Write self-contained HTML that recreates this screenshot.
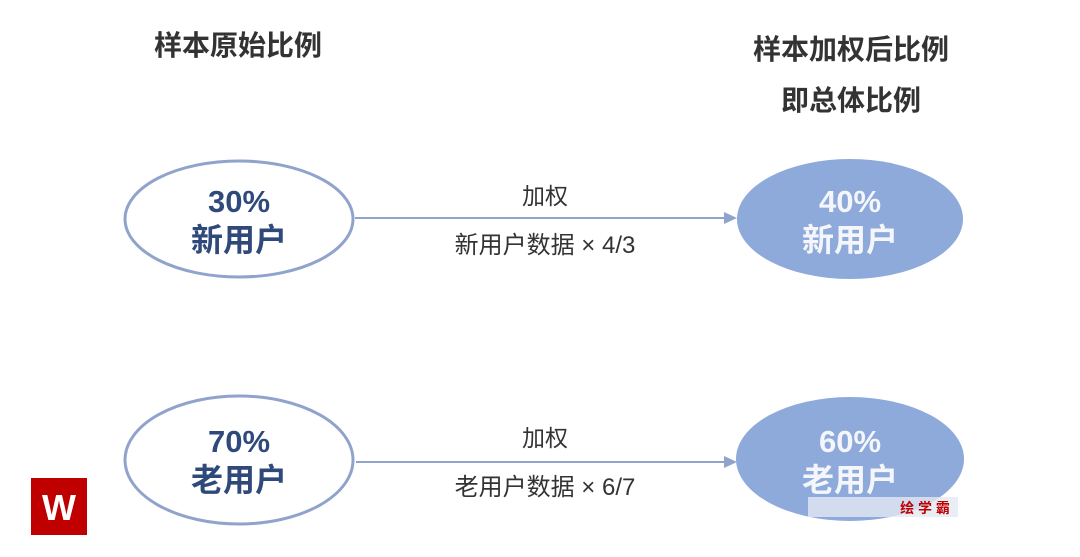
<!DOCTYPE html>
<html><head><meta charset="utf-8"><style>
html,body{margin:0;padding:0;background:#fff;}
svg{display:block;font-family:"Liberation Sans","Noto Sans CJK SC",sans-serif;}
</style></head><body>
<svg width="1080" height="557" viewBox="0 0 1080 557">
<text x="238" y="55" font-size="28" font-weight="bold" fill="#333" text-anchor="middle">样本原始比例</text>
<text x="851" y="59" font-size="28" font-weight="bold" fill="#333" text-anchor="middle">样本加权后比例</text>
<text x="851" y="110" font-size="28" font-weight="bold" fill="#333" text-anchor="middle">即总体比例</text>

<ellipse cx="239" cy="219" rx="114" ry="58" fill="#fff" stroke="#8fa3cc" stroke-width="3"/>
<text x="239" y="212" font-size="31" font-weight="bold" fill="#2f4a7a" text-anchor="middle">30%</text>
<text x="239" y="251" font-size="32" font-weight="bold" fill="#2f4a7a" text-anchor="middle">新用户</text>

<ellipse cx="850" cy="219" rx="113" ry="60" fill="#8eaadb"/>
<text x="850" y="212" font-size="31" font-weight="bold" fill="#f4f6fb" text-anchor="middle">40%</text>
<text x="850" y="251" font-size="32" font-weight="bold" fill="#f4f6fb" text-anchor="middle">新用户</text>

<line x1="355" y1="218" x2="728" y2="218" stroke="#8fa3cc" stroke-width="2"/>
<polygon points="737,218 724,212 724,224" fill="#8fa3cc"/>
<text x="545" y="204" font-size="23" fill="#333" text-anchor="middle">加权</text>
<text x="545" y="253" font-size="24" fill="#333" text-anchor="middle">新用户数据 × 4/3</text>

<ellipse cx="239" cy="460" rx="114" ry="64" fill="#fff" stroke="#8fa3cc" stroke-width="3"/>
<text x="239" y="452" font-size="31" font-weight="bold" fill="#2f4a7a" text-anchor="middle">70%</text>
<text x="239" y="491" font-size="32" font-weight="bold" fill="#2f4a7a" text-anchor="middle">老用户</text>

<ellipse cx="850" cy="459" rx="114" ry="62" fill="#8eaadb"/>
<text x="850" y="452" font-size="31" font-weight="bold" fill="#f4f6fb" text-anchor="middle">60%</text>
<text x="850" y="491" font-size="32" font-weight="bold" fill="#f4f6fb" text-anchor="middle">老用户</text>

<line x1="356" y1="462" x2="728" y2="462" stroke="#8fa3cc" stroke-width="2"/>
<polygon points="737,462 724,456 724,468" fill="#8fa3cc"/>
<text x="545" y="446" font-size="23" fill="#333" text-anchor="middle">加权</text>
<text x="545" y="495" font-size="24" fill="#333" text-anchor="middle">老用户数据 × 6/7</text>

<rect x="31" y="478" width="56" height="57" fill="#c00000"/>
<text x="59" y="520" font-size="36" font-weight="bold" fill="#fff" text-anchor="middle">W</text>
<rect x="808" y="497" width="150" height="20" fill="#e4e9f3" opacity="0.8"/>
<text x="925" y="513" font-size="14" font-weight="bold" fill="#c00000" text-anchor="middle">绘 学 霸</text>
</svg>
</body></html>
